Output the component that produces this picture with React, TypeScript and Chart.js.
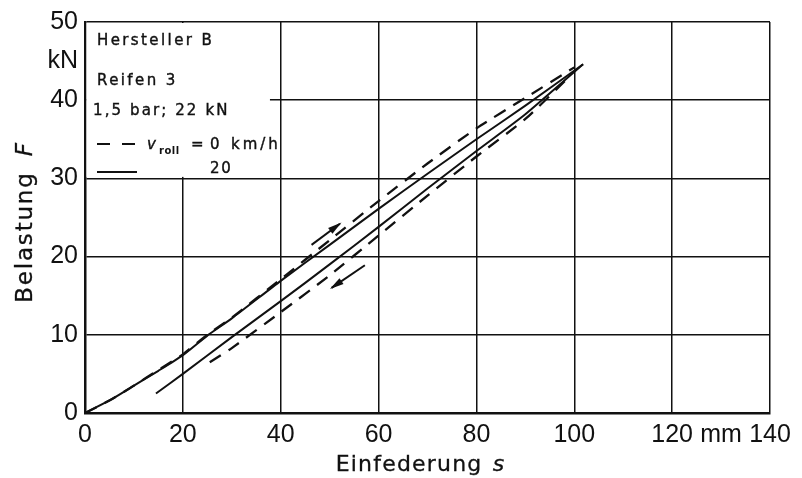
import { useEffect, useRef } from "react";
import { Chart, registerables } from "chart.js";

Chart.register(...registerables);

// Einfederung s (mm) and Belastung F (kN), Hersteller B, Reifen 3, 1,5 bar; 22 kN
// v_roll = 0 km/h: loading branch and unloading branch
const loadS_v0 = [0, 5, 10, 15, 20, 25, 30, 40, 50, 60, 70, 80, 90, 100];
const loadF_v0 = [0, 1.6, 3.5, 5.5, 7.5, 10.0, 12.2, 17.1, 22.1, 27.1, 31.9, 36.4, 40.3, 44.2];
const unloadS_v0 = [25.5, 30, 40, 50, 60, 70, 80, 90, 99];
const unloadF_v0 = [6.5, 8.3, 12.9, 17.6, 22.7, 27.8, 32.8, 37.6, 43.0];

// v_roll = 20 km/h: loading branch and unloading branch
const loadS_v20 = [0, 5, 10, 15, 20, 25, 30, 40, 50, 60, 70, 80, 90, 101.8];
const loadF_v20 = [0, 1.6, 3.5, 5.4, 7.4, 9.9, 12.1, 16.9, 21.5, 26.1, 30.6, 35.0, 39.3, 44.6];
const unloadS_v20 = [14.5, 20, 30, 40, 50, 60, 70, 80, 90, 101.8];
const unloadF_v20 = [2.5, 5.0, 9.7, 14.3, 19.0, 23.8, 28.7, 33.5, 38.2, 44.6];

// direction arrows (tail, head)
const arrowLoadS = [46.3, 52.1];
const arrowLoadF = [21.5, 24.2];
const arrowUnloadS = [57.2, 50.4];
const arrowUnloadF = [18.9, 16.0];

// axis ranges and labelled ticks
const sMax = 140;
const fMax = 50;
const sTickLabels = [0, 20, 40, 60, 80, 100, 120, 140];
const fTickLabels = [0, 10, 20, 30, 40, 50];
const sUnitAt = 130;
const fUnitAt = 45;

// extent of the key panel in the upper left corner
const keyS = 37.8;
const keyF = 30;

const INK = "#111";
const TICK_FONT = '"Liberation Sans", Arial, sans-serif';
const TEXT_FONT = '"DejaVu Sans", sans-serif';

const pts = (s: number[], f: number[]) => s.map((v, i) => ({ x: v, y: f[i] }));

const curve = (data: { x: number; y: number }[], dashed: boolean) => ({
  data,
  borderColor: INK,
  borderWidth: dashed ? 2.3 : 2,
  borderDash: dashed ? [13, 9] : [],
  pointRadius: 0,
  tension: 0.2,
  fill: false,
});

// lettering with a faint outline so the strokes read a little heavier
const drawText = (
  ctx: CanvasRenderingContext2D,
  text: string,
  x: number,
  y: number,
  font: string,
  spacing = "0px",
  weight = 0.4
) => {
  ctx.font = font;
  (ctx as any).letterSpacing = spacing;
  ctx.fillText(text, x, y);
  if (weight > 0) {
    ctx.lineWidth = weight;
    ctx.strokeStyle = INK;
    ctx.strokeText(text, x, y);
  }
  return ctx.measureText(text).width;
};

const annotations = {
  id: "annotations",
  beforeDatasetsDraw(chart: any) {
    const { ctx, chartArea, scales } = chart;
    const r = scales.x.getPixelForValue(keyS);
    const b = scales.y.getPixelForValue(keyF) - 1.5;
    ctx.save();
    ctx.fillStyle = "#fff";
    ctx.fillRect(chartArea.left + 1.5, chartArea.top + 1, r - chartArea.left - 1.5, b - chartArea.top - 1);
    ctx.restore();
  },
  afterDatasetsDraw(chart: any) {
    const { ctx } = chart;
    [4, 5].forEach((i) => {
      const meta = chart.getDatasetMeta(i);
      const p0 = meta.data[0];
      const p1 = meta.data[1];
      const a = Math.atan2(p1.y - p0.y, p1.x - p0.x);
      const len = 12;
      const hw = 3.6;
      ctx.save();
      ctx.translate(p1.x, p1.y);
      ctx.rotate(a);
      ctx.fillStyle = INK;
      ctx.beginPath();
      ctx.moveTo(2, 0);
      ctx.lineTo(-len, -hw);
      ctx.lineTo(-len, hw);
      ctx.closePath();
      ctx.fill();
      ctx.restore();
    });
  },
  afterDraw(chart: any) {
    const { ctx, chartArea } = chart;
    const L = chartArea.left;
    const T = chartArea.top;
    ctx.save();
    ctx.fillStyle = INK;
    ctx.textAlign = "left";
    ctx.textBaseline = "alphabetic";

    // key panel
    drawText(ctx, "Hersteller B", L + 12, T + 23, `15px ${TEXT_FONT}`, "2.4px");
    drawText(ctx, "Reifen 3", L + 12, T + 63, `15px ${TEXT_FONT}`, "2.4px");
    drawText(ctx, "1,5 bar; 22 kN", L + 8, T + 93, `15px ${TEXT_FONT}`, "2.1px");

    ctx.strokeStyle = INK;
    ctx.lineWidth = 2.2;
    ctx.setLineDash([13, 12]);
    ctx.beginPath();
    ctx.moveTo(L + 12, T + 122);
    ctx.lineTo(L + 50, T + 122);
    ctx.stroke();
    ctx.setLineDash([]);
    ctx.beginPath();
    ctx.moveTo(L + 12, T + 150);
    ctx.lineTo(L + 52, T + 150);
    ctx.stroke();

    drawText(ctx, "v", L + 62, T + 127, `italic 15px ${TEXT_FONT}`);
    drawText(ctx, "roll", L + 74, T + 132, `bold 10px ${TEXT_FONT}`, "0.5px", 0);
    drawText(ctx, "=", L + 106, T + 127, `15px ${TEXT_FONT}`);
    drawText(ctx, "0", L + 125, T + 127, `15px ${TEXT_FONT}`);
    drawText(ctx, "km/h", L + 146, T + 127, `15px ${TEXT_FONT}`, "3px");
    drawText(ctx, "20", L + 125, T + 151, `15px ${TEXT_FONT}`, "1.6px");

    // axis titles
    const titleFont = `22px ${TEXT_FONT}`;
    const titleItalic = `italic 22px ${TEXT_FONT}`;
    ctx.font = titleFont;
    (ctx as any).letterSpacing = "1.2px";
    const wx = ctx.measureText("Einfederung ").width;
    ctx.font = titleItalic;
    const ws = ctx.measureText("s").width;
    const cx = (chartArea.left + chartArea.right) / 2 - 8;
    const x0 = cx - (wx + ws) / 2;
    drawText(ctx, "Einfederung ", x0, 471, titleFont, "1.2px", 0.3);
    drawText(ctx, "s", x0 + wx + 2, 471, titleItalic, "1.2px", 0.3);

    const yFont = `23px ${TEXT_FONT}`;
    const yItalic = `italic 23px ${TEXT_FONT}`;
    ctx.font = yFont;
    (ctx as any).letterSpacing = "1.8px";
    const wy = ctx.measureText("Belastung ").width;
    ctx.font = yItalic;
    const wf = ctx.measureText("F").width;
    ctx.translate(32, 222);
    ctx.rotate(-Math.PI / 2);
    const y0 = -(wy + wf + 6) / 2;
    drawText(ctx, "Belastung ", y0, 0, yFont, "1.8px", 0.3);
    drawText(ctx, "F", y0 + wy + 6, 0, yItalic, "1.8px", 0.3);
    ctx.restore();
  },
};

export default function App() {
  const canvasRef = useRef<HTMLCanvasElement>(null);

  useEffect(() => {
    document.body.style.margin = "0";
    const canvas = canvasRef.current;
    if (!canvas) return;

    const chart = new Chart(canvas, {
      type: "line",
      data: {
        datasets: [
          curve(pts(loadS_v0, loadF_v0), true),
          curve(pts(unloadS_v0, unloadF_v0), true),
          curve(pts(loadS_v20, loadF_v20), false),
          curve(pts(unloadS_v20, unloadF_v20), false),
          { ...curve(pts(arrowLoadS, arrowLoadF), false), tension: 0 },
          { ...curve(pts(arrowUnloadS, arrowUnloadF), false), tension: 0 },
        ] as any,
      },
      options: {
        responsive: false,
        animation: false,
        events: [],
        layout: { padding: { left: 0, top: 20, right: 32, bottom: 0 } },
        plugins: {
          legend: { display: false },
          tooltip: { enabled: false },
        },
        scales: {
          x: {
            type: "linear",
            min: 0,
            max: sMax,
            afterFit: (scale: any) => {
              scale.height = 65;
            },
            ticks: {
              stepSize: 10,
              autoSkip: false,
              maxRotation: 0,
              padding: 7,
              color: INK,
              font: { family: TICK_FONT, size: 25 },
              callback: (v: any) =>
                sTickLabels.includes(v) ? String(v) : v === sUnitAt ? "mm" : "",
            },
            grid: {
              drawTicks: false,
              lineWidth: 1.5,
              color: (c: any) =>
                c.tick && sTickLabels.includes(c.tick.value) ? INK : "rgba(0,0,0,0)",
            },
            border: { display: true, color: INK, width: 2.5 },
          },
          y: {
            type: "linear",
            min: 0,
            max: fMax,
            afterFit: (scale: any) => {
              scale.width = 85;
            },
            ticks: {
              stepSize: 5,
              autoSkip: false,
              padding: 7,
              color: INK,
              font: { family: TICK_FONT, size: 25 },
              callback: (v: any) =>
                fTickLabels.includes(v) ? String(v) : v === fUnitAt ? "kN" : "",
            },
            grid: {
              drawTicks: false,
              lineWidth: 1.5,
              color: (c: any) =>
                c.tick && fTickLabels.includes(c.tick.value) ? INK : "rgba(0,0,0,0)",
            },
            border: { display: true, color: INK, width: 2.5 },
          },
        },
      },
      plugins: [annotations as any],
    });

    return () => chart.destroy();
  }, []);

  return (
    <div style={{ position: "fixed", left: 0, top: 0, width: 802, height: 478, background: "#fff" }}>
      <canvas ref={canvasRef} width={802} height={478} style={{ display: "block" }} />
    </div>
  );
}
